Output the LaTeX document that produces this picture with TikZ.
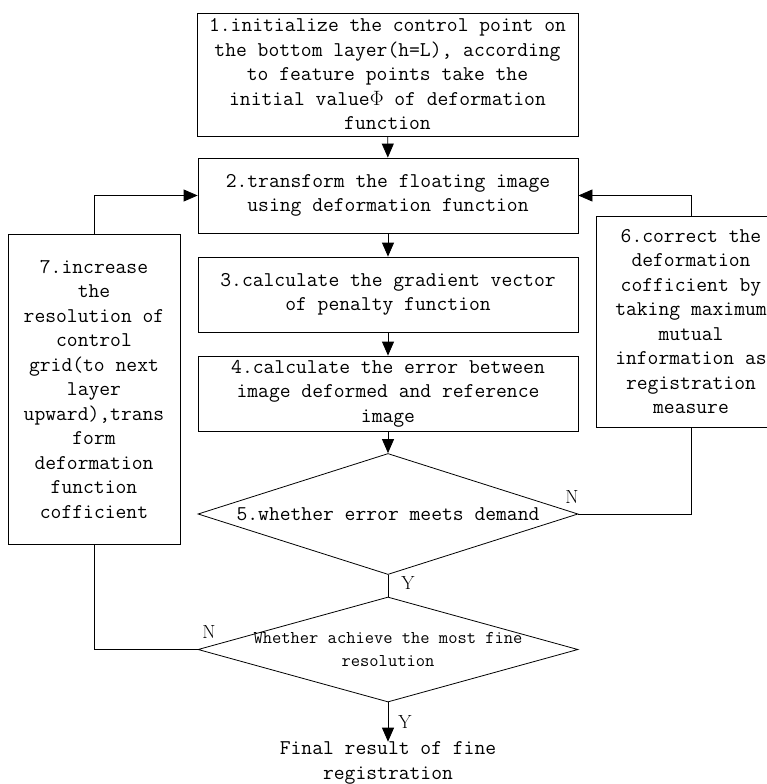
\documentclass[tikz,border=0pt]{standalone}
\usepackage{fontspec}
\usetikzlibrary{shapes.geometric,arrows.meta}

\begin{document}
\begin{tikzpicture}[x=1pt, y=-1pt]
    \tikzset{cbox/.style={draw=black, line width=0.8pt, align=center, inner sep=0pt, font=\ttfamily\fontsize{21}{24.5}\selectfont}}
    \tikzset{cdec/.style={diamond, draw=black, line width=0.8pt, inner sep=0pt, minimum width=380pt}}
    \tikzset{ctext/.style={align=center, inner sep=0pt, font=\ttfamily\fontsize{21}{24.5}\selectfont}}
    \tikzset{clabel/.style={inner sep=0pt, font=\rmfamily\fontsize{19}{19}\selectfont}}
    \tikzset{carrow/.style={-{Triangle[length=14pt,width=12pt]}, line width=0.8pt}}
    \tikzset{cline/.style={line width=0.8pt}}
    \useasboundingbox (0,0) rectangle (766,784);
    % Main column of steps:
    \node[cbox, minimum width=381pt, minimum height=123pt] (s1) at (387.5, 74.5)
        {1.initialize the control point on\\the bottom layer(h=L), according\\to feature points take the\\initial value$\Phi$ of deformation\\function};
    \node[cbox, minimum width=380pt, minimum height=75pt] (s2) at (388, 195.5)
        {2.transform the floating image\\using deformation function};
    \node[cbox, minimum width=380pt, minimum height=75pt] (s3) at (388, 294.5)
        {3.calculate the gradient vector\\of penalty function};
    \node[cbox, minimum width=380pt, minimum height=75pt] (s4) at (388, 393.5)
        {4.calculate the error between\\image deformed and reference\\image};
    \draw[carrow] (s1) -- (s2);
    \draw[carrow] (s2) -- (s3);
    \draw[carrow] (s3) -- (s4);

    \node[cdec, minimum height=121pt] (d5) at (388, 514) {};
    \node[ctext] (d5t) at (d5) {5.whether error meets demand};
    \node[cdec, minimum height=105pt] (d7) at (388, 649.5) {};
    \node[ctext, font=\ttfamily\fontsize{18}{23}\selectfont] (d7t) at (d7) {Whether achieve the most fine\\resolution};
    \node[ctext] (res) at (388, 763) {Final result of fine\\registration};
    \draw[carrow] (s4) -- (d5.north);
    \draw[cline] (d5.south) -- (d7.north);
    \draw[carrow] (d7.south) -- (res.north);

    % Side loops:
    \node[cbox, minimum width=190pt, minimum height=211pt] (s6) at (691, 321.5)
        {6.correct the\\deformation\\cofficient by\\taking maximum\\mutual\\information as\\registration\\measure};
    \node[cbox, minimum width=172pt, minimum height=310pt] (s7) at (94, 389)
        {7.increase\\the\\resolution of\\control\\grid(to next\\layer\\upward),trans\\form\\deformation\\function\\cofficient};
    \draw[cline] (d5.east) -| (s6.south);
    \draw[carrow] (s6.north) |- (s2.east);
    \draw[cline] (d7.west) -| (s7.south);
    \draw[carrow] (s7.north) |- (s2.west);

    \node[clabel] (n5) at (572, 497) {N};
    \node[clabel] (y5) at (408, 583) {Y};
    \node[clabel] (n7) at (209, 632) {N};
    \node[clabel] (y7) at (405, 722) {Y};
\end{tikzpicture}
\end{document}
